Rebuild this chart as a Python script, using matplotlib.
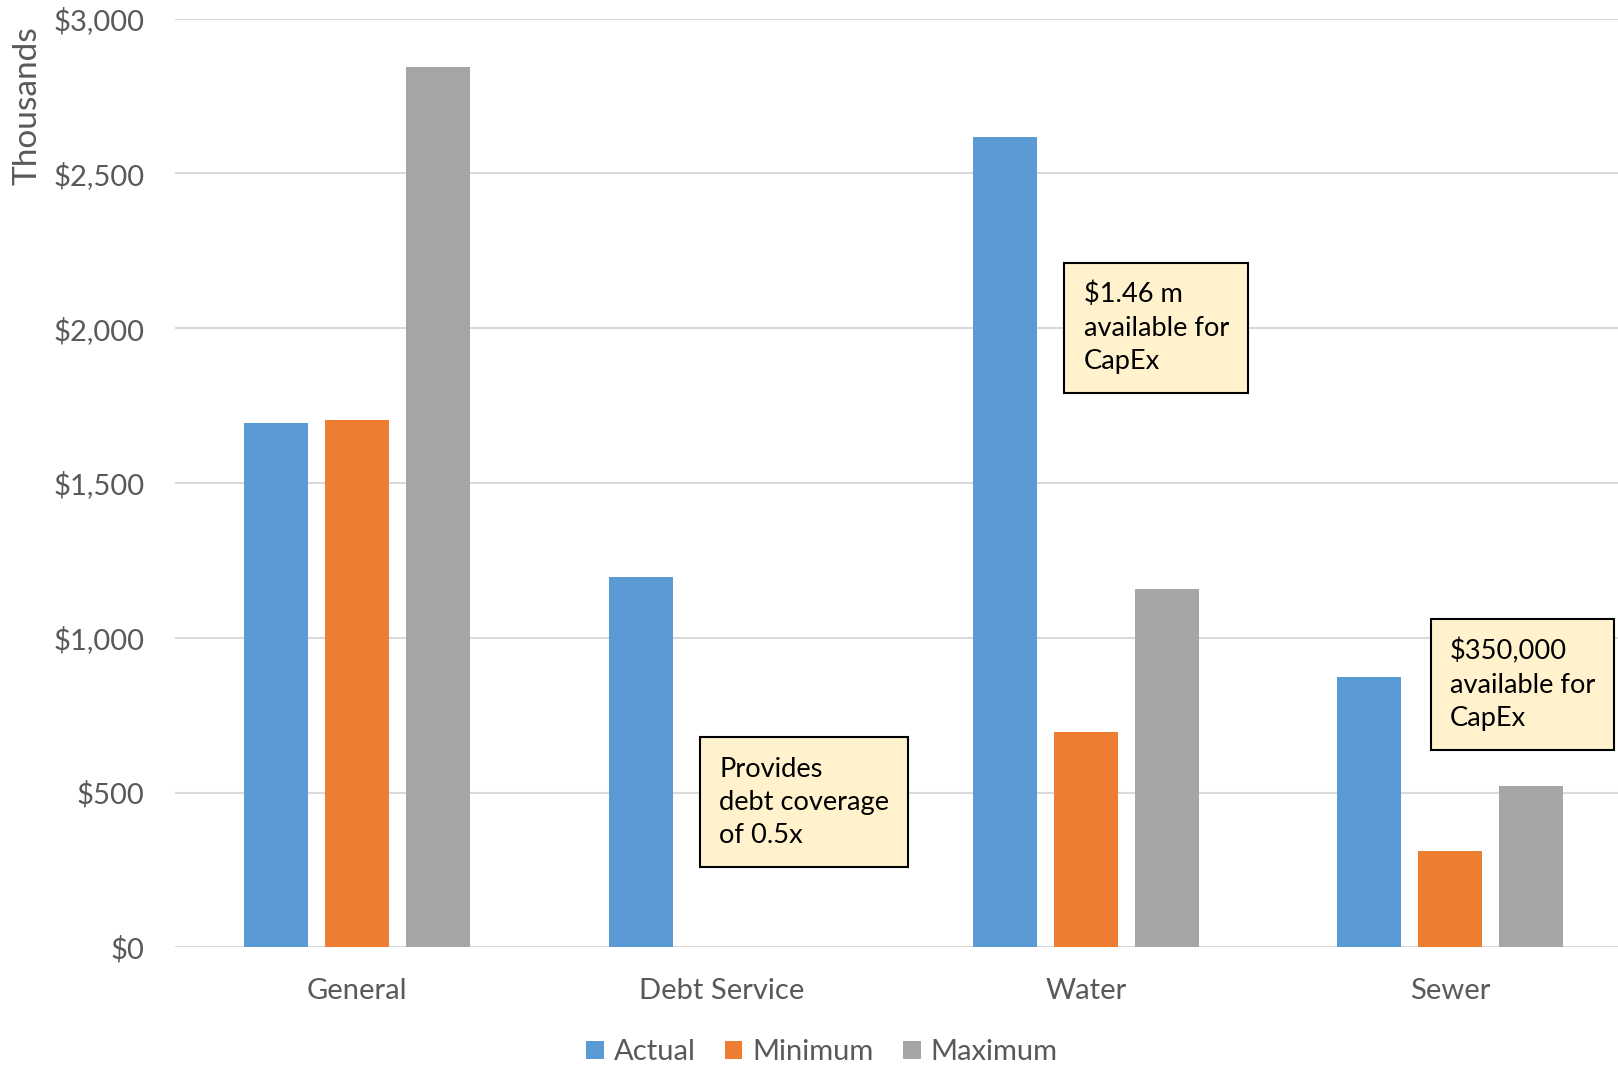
import matplotlib.pyplot as plt
import numpy as np
from matplotlib.ticker import FuncFormatter

plt.rcParams['font.family'] = ['Lato', 'DejaVu Sans']

categories = ["General", "Debt Service", "Water", "Sewer"]
series = ["Actual", "Minimum", "Maximum"]
actual = [1695, 1195, 2618, 872]
minimum = [1705, 0, 695, 310]
maximum = [2845, 0, 1158, 520]
colors = ["#5b9bd5", "#ed7d31", "#a5a5a5"]

notes = [
    ("Provides\ndebt coverage\nof 0.5x", 0.942, 677),
    ("$1.46 m\navailable for\nCapEx", 1.942, 2210),
    ("$350,000\navailable for\nCapEx", 2.948, 1060),
]

grey = "#595959"

fig = plt.figure(figsize=(16.18, 10.70), dpi=100)
ax = fig.add_axes([0.1082, 0.1146, 0.9007, 0.868])

x = np.arange(len(categories))
width = 0.176
step = 0.222
for i, (name, vals, c) in enumerate(zip(series, [actual, minimum, maximum], colors)):
    ax.bar(x + (i - 1) * step, vals, width, color=c, label=name, zorder=3)

ax.set_xlim(-0.5, len(categories) - 0.5)
ax.set_ylim(0, 3000)
ax.set_yticks(np.arange(0, 3001, 500))
ax.yaxis.set_major_formatter(FuncFormatter(lambda v, p: f"${v:,.0f}"))
ax.set_xticks(x)
ax.set_xticklabels(categories)
ax.grid(axis='y', color="#d9d9d9", linewidth=1.5, zorder=0)
ax.tick_params(axis='both', length=0, labelsize=21, colors=grey)
ax.tick_params(axis='y', pad=22)
ax.tick_params(axis='x', pad=22)
for s in ax.spines.values():
    s.set_visible(False)

fig.text(0.0173, 0.901, "Thousands", rotation=90, ha='center', va='center',
         fontsize=24, color=grey)

for txt, bx, by in notes:
    ax.annotate(txt, xy=(bx, by), xytext=(13.5, -13.5), textcoords='offset points',
                ha='left', va='top', fontsize=19.6, color='black', linespacing=1.42,
                bbox=dict(boxstyle='square,pad=0.7', facecolor='#fff2cc',
                          edgecolor='black', linewidth=1.5), zorder=5)

leg = fig.legend(loc='center', bbox_to_anchor=(0.508, 0.0164), ncol=3, frameon=False,
                 fontsize=21, handlelength=0.6, handleheight=0.6, handletextpad=0.35,
                 columnspacing=1.0)
for t in leg.get_texts():
    t.set_color(grey)

fig.savefig("out.png", dpi=100)
